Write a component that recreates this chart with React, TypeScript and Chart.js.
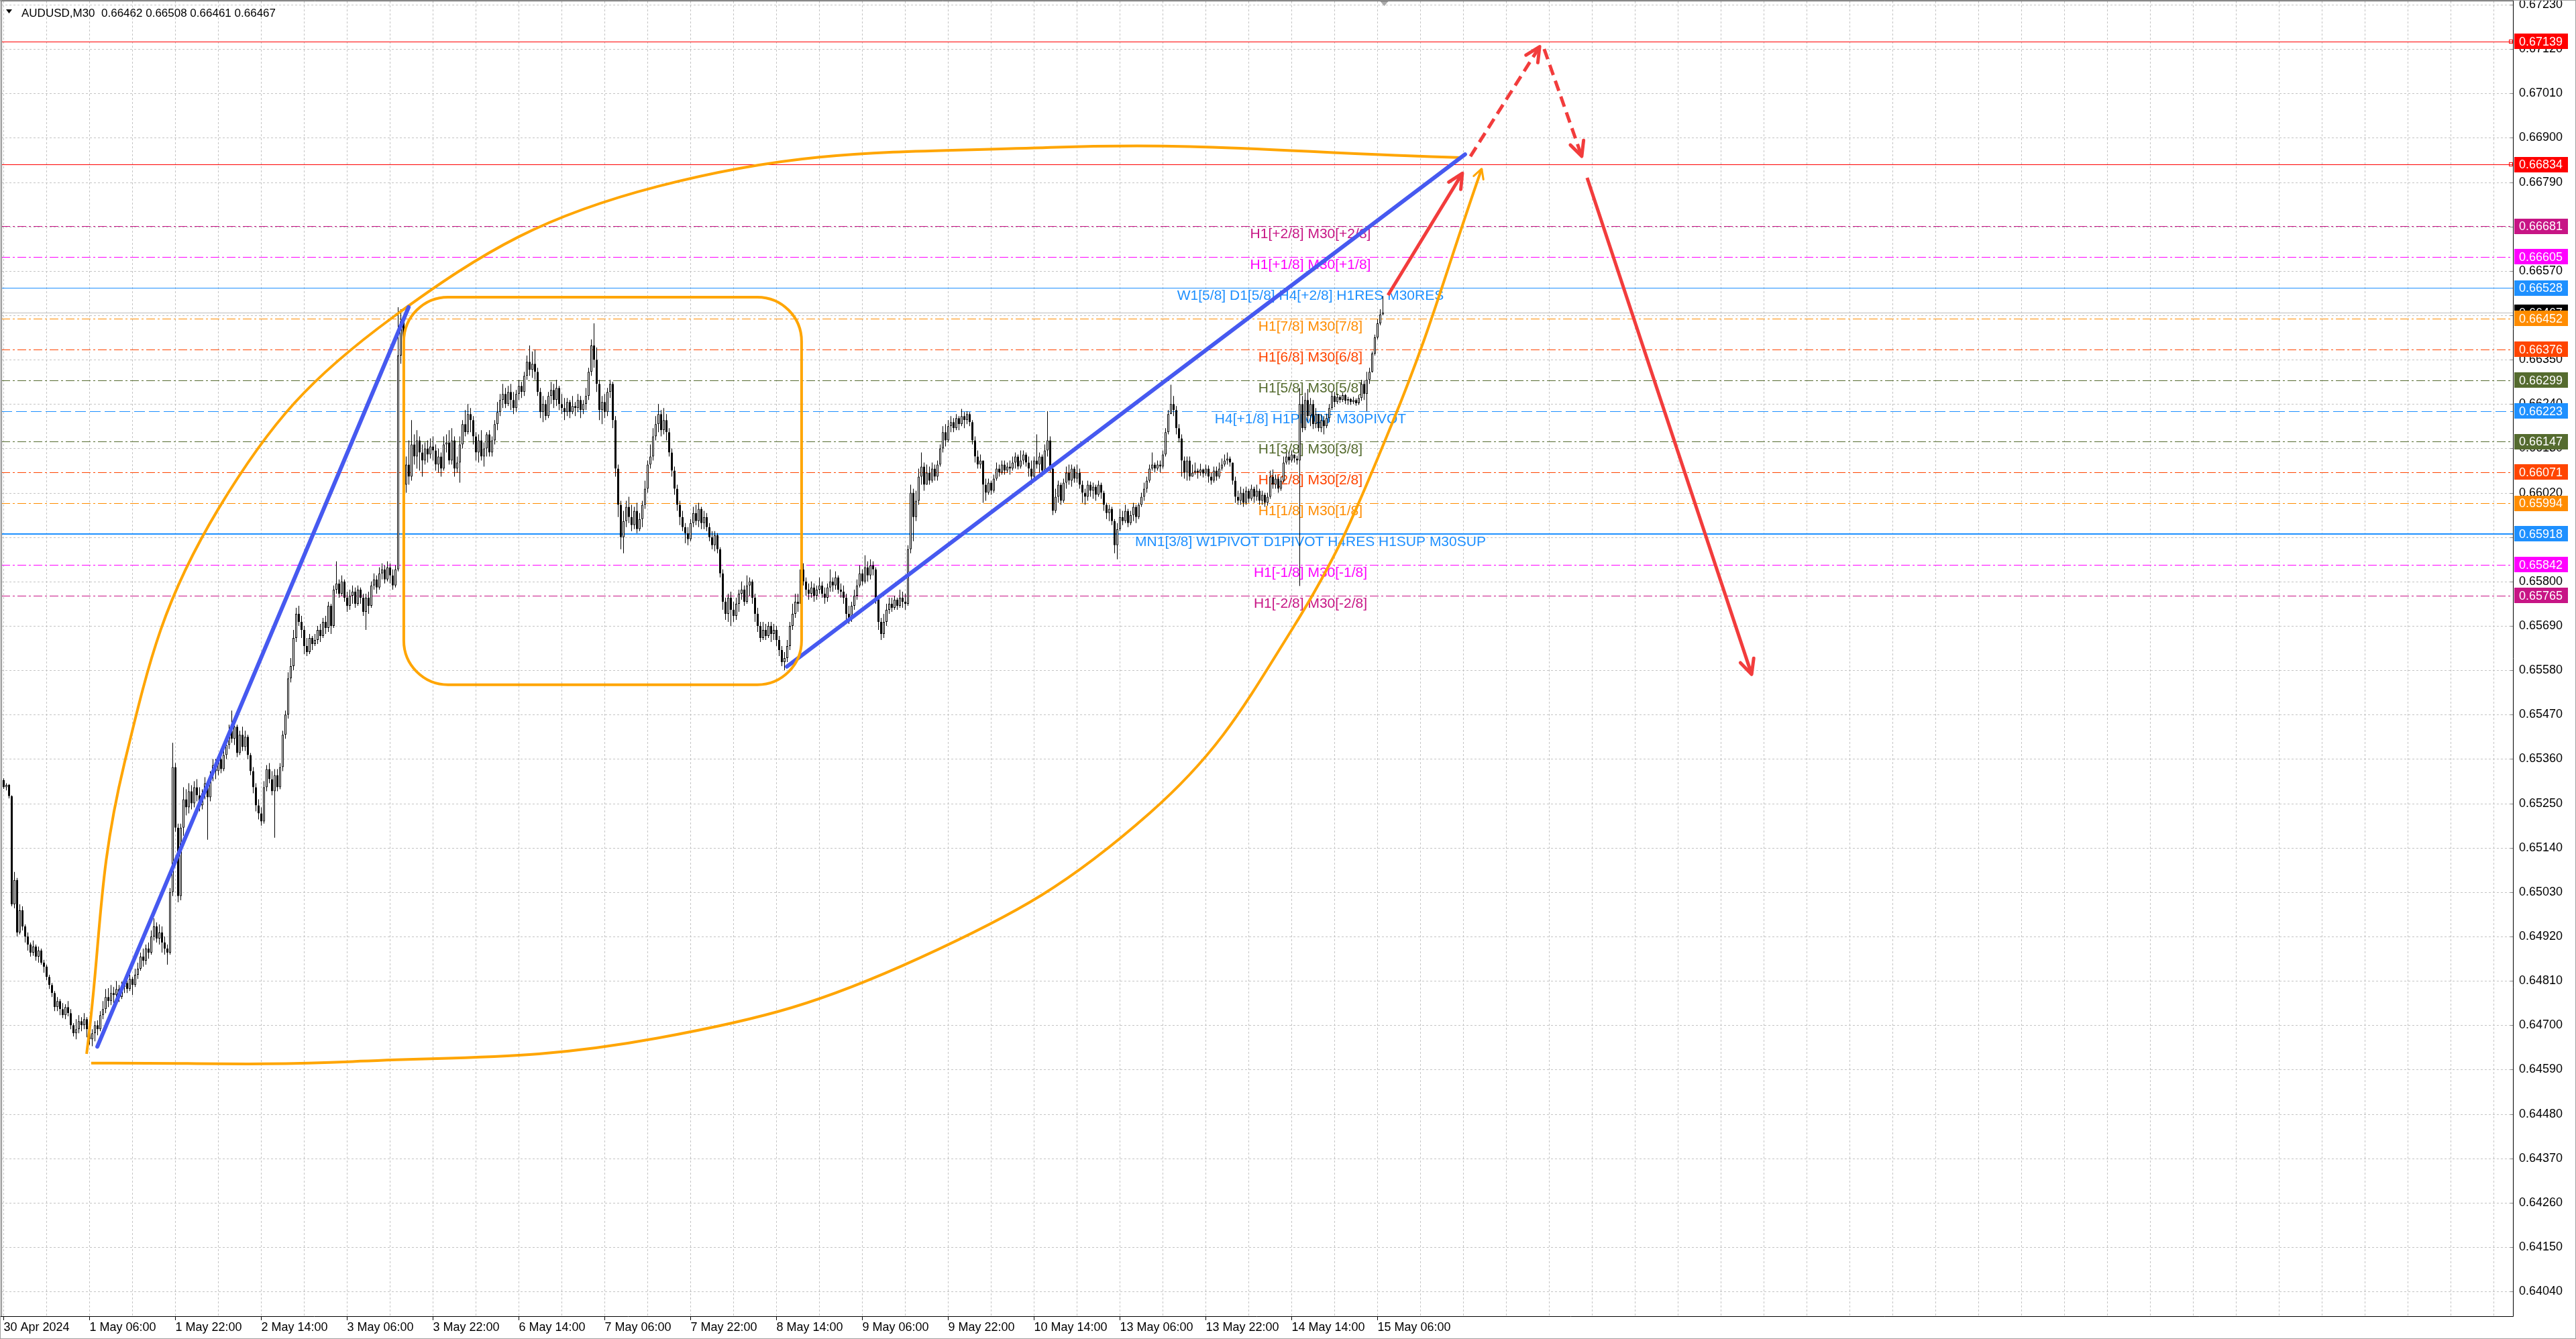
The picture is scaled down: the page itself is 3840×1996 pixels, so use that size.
import React, { useEffect, useRef } from 'react';
import { Chart, registerables } from 'chart.js';

Chart.register(...registerables);

// ---------------- DATA ----------------
const headerTitle = 'AUDUSD,M30  0.66462 0.66508 0.66461 0.66467';
const PRICE_BASE = 0.6;
const PRICE_UNIT = 100000;
const firstOpen = 5308;

const closes = [
  5290,5296,5268,5000,5060,4930,4985,4945,4920,4900,
  4880,4895,4870,4885,4855,4845,4820,4800,4780,4745,
  4760,4740,4725,4745,4730,4700,4680,4690,4710,4700,
  4715,4690,4665,4680,4700,4690,4725,4740,4770,4760,
  4780,4775,4790,4770,4795,4805,4790,4815,4800,4825,
  4840,4870,4860,4890,4880,4920,4945,4915,4930,4905,
  4890,4880,5030,5340,5190,5020,5190,5260,5240,5280,
  5250,5290,5270,5245,5275,5300,5265,5320,5345,5330,
  5360,5335,5370,5395,5430,5410,5440,5375,5420,5390,
  5415,5370,5330,5290,5245,5225,5205,5290,5335,5310,
  5280,5320,5290,5340,5420,5470,5560,5590,5660,5720,
  5700,5680,5640,5625,5660,5645,5655,5680,5665,5700,
  5685,5740,5690,5780,5795,5770,5800,5760,5740,5765,
  5775,5745,5780,5760,5725,5760,5740,5790,5805,5785,
  5820,5830,5805,5835,5815,5790,5830,6360,6445,6040,
  6090,6060,6140,6110,6150,6120,6100,6130,6115,6135,
  6125,6090,6110,6080,6140,6145,6100,6150,6080,6095,
  6140,6190,6170,6215,6200,6160,6120,6150,6110,6130,
  6165,6120,6150,6190,6220,6250,6265,6240,6270,6250,
  6230,6265,6285,6270,6310,6345,6325,6340,6320,6270,
  6220,6240,6210,6260,6275,6250,6280,6240,6230,6220,
  6245,6220,6235,6230,6250,6225,6240,6260,6320,6385,
  6350,6290,6225,6245,6220,6270,6290,6200,6080,5990,
  5910,5950,5985,5960,5940,5975,5930,5955,5990,6030,
  6090,6110,6160,6190,6215,6175,6200,6170,6120,6075,
  6030,5990,5960,5935,5920,5905,5945,5970,5950,5980,
  5945,5960,5935,5910,5890,5915,5880,5820,5750,5720,
  5760,5730,5715,5745,5770,5780,5750,5790,5800,5760,
  5720,5690,5660,5680,5665,5690,5670,5680,5655,5630,
  5600,5610,5640,5690,5720,5750,5745,5830,5800,5780,
  5770,5785,5765,5780,5790,5770,5760,5785,5800,5790,
  5810,5780,5775,5760,5720,5710,5740,5765,5790,5820,
  5800,5835,5815,5840,5830,5760,5700,5670,5700,5730,
  5745,5735,5755,5740,5760,5750,5745,5880,6020,5960,
  6000,6060,6085,6040,6070,6050,6080,6060,6090,6130,
  6170,6150,6185,6195,6180,6205,6190,6210,6200,6215,
  6195,6150,6110,6090,6100,6040,6020,6045,6025,6055,
  6080,6070,6090,6075,6085,6080,6095,6110,6085,6100,
  6115,6095,6080,6060,6100,6090,6110,6075,6125,6150,
  6080,5975,6010,6040,6000,6045,6070,6050,6080,6055,
  6070,6040,6020,6010,6040,6025,6035,6015,6040,6020,
  5990,5970,5980,5950,5890,5930,5960,5950,5975,5945,
  5965,5985,5960,5990,6010,6030,6050,6080,6090,6080,
  6090,6085,6115,6170,6215,6240,6225,6180,6155,6100,
  6070,6100,6060,6070,6075,6070,6078,6068,6080,6060,
  6050,6075,6060,6080,6090,6100,6105,6095,6050,6010,
  6000,6020,5995,6025,6005,6030,6010,6025,6000,6015,
  5995,6010,6060,6040,6055,6030,6050,6095,6110,6100,
  6115,6105,6100,6240,6180,6250,6210,6240,6190,6215,
  6180,6200,6185,6205,6230,6260,6245,6258,6250,6262,
  6248,6252,6245,6250,6242,6255,6290,6265,6300,6320,
  6365,6405,6440,6462,6467,
];

const highs = [
  5312,5300,5298,5270,5080,5065,5000,4995,4950,4930,
  4905,4910,4900,4895,4890,4862,4850,4825,4805,4785,
  4770,4765,4755,4752,4760,4740,4705,4715,4725,4720,
  4730,4720,4700,4690,4710,4712,4735,4760,4790,4792,
  4800,4795,4810,4800,4808,4815,4830,4825,4820,4840,
  4855,4880,4890,4900,4905,4935,4965,4955,4950,4945,
  4920,4900,5040,5400,5350,5200,5200,5290,5285,5300,
  5295,5305,5310,5290,5285,5315,5305,5330,5360,5360,
  5370,5375,5385,5410,5445,5480,5455,5445,5430,5440,
  5430,5420,5375,5340,5300,5260,5240,5305,5345,5350,
  5330,5335,5335,5350,5430,5480,5575,5610,5680,5735,
  5740,5715,5690,5660,5670,5665,5670,5690,5695,5710,
  5715,5750,5745,5790,5850,5805,5815,5805,5775,5780,
  5790,5785,5790,5785,5770,5770,5775,5800,5820,5815,
  5835,5845,5840,5850,5845,5830,5840,6480,6475,6460,
  6110,6150,6200,6165,6175,6160,6140,6145,6150,6155,
  6160,6140,6130,6120,6160,6165,6175,6180,6160,6110,
  6160,6200,6225,6240,6230,6210,6170,6165,6175,6145,
  6170,6175,6160,6200,6245,6265,6290,6280,6285,6290,
  6270,6275,6300,6295,6320,6360,6385,6370,6375,6330,
  6280,6260,6250,6270,6295,6290,6300,6285,6265,6255,
  6255,6250,6260,6245,6265,6260,6250,6280,6330,6400,
  6440,6380,6300,6260,6265,6280,6300,6295,6210,6090,
  6000,5975,6000,6010,5990,5985,5995,5970,6000,6050,
  6100,6140,6180,6210,6240,6225,6230,6215,6180,6130,
  6085,6040,6000,5975,5945,5935,5955,5985,5990,5995,
  5985,5975,5970,5945,5925,5925,5920,5885,5830,5760,
  5770,5775,5750,5760,5780,5800,5790,5815,5810,5805,
  5770,5735,5700,5700,5695,5700,5700,5695,5690,5665,
  5640,5625,5655,5700,5745,5770,5770,5840,5845,5810,
  5795,5800,5795,5790,5810,5800,5785,5795,5830,5810,
  5825,5815,5795,5790,5770,5740,5750,5780,5805,5840,
  5830,5865,5850,5855,5850,5835,5765,5710,5720,5745,
  5760,5760,5765,5760,5780,5775,5770,5890,6040,6030,
  6025,6080,6120,6095,6090,6085,6095,6090,6100,6140,
  6185,6190,6200,6210,6205,6215,6210,6228,6220,6222,
  6220,6200,6160,6125,6115,6100,6055,6055,6050,6065,
  6095,6090,6100,6100,6095,6100,6110,6120,6115,6125,
  6125,6120,6110,6100,6110,6165,6120,6115,6140,6222,
  6160,6090,6030,6050,6045,6055,6085,6090,6090,6085,
  6090,6080,6050,6030,6050,6048,6045,6040,6050,6045,
  6025,5995,5990,5985,5955,5945,5980,5975,5990,5980,
  5975,5995,5990,5995,6020,6045,6060,6090,6120,6095,
  6100,6100,6125,6180,6225,6288,6260,6235,6190,6165,
  6110,6110,6110,6090,6095,6080,6092,6080,6090,6088,
  6070,6085,6085,6095,6105,6115,6120,6110,6095,6060,
  6025,6035,6030,6035,6030,6040,6035,6040,6030,6025,
  6020,6020,6075,6078,6065,6060,6060,6110,6120,6122,
  6125,6115,6112,6280,6260,6268,6277,6255,6250,6230,
  6215,6215,6210,6216,6240,6271,6270,6266,6262,6268,
  6265,6258,6255,6258,6254,6262,6300,6299,6320,6330,
  6370,6412,6450,6475,6508,
];

const lows = [
  5286,5282,5262,4995,4990,4920,4925,4935,4905,4885,
  4870,4872,4860,4855,4850,4830,4812,4790,4770,4735,
  4735,4725,4718,4715,4722,4690,4672,4665,4680,4685,
  4690,4670,4652,4648,4660,4675,4685,4715,4730,4745,
  4750,4755,4765,4758,4765,4780,4780,4785,4775,4795,
  4815,4835,4845,4850,4865,4875,4910,4905,4900,4880,
  4875,4850,4875,5020,5180,5005,5010,5170,5220,5225,
  5235,5240,5255,5230,5235,5260,5160,5255,5305,5310,
  5320,5325,5330,5360,5385,5400,5395,5365,5370,5380,
  5380,5360,5320,5275,5230,5210,5195,5200,5280,5300,
  5270,5165,5280,5285,5330,5410,5460,5550,5580,5650,
  5690,5660,5620,5615,5620,5630,5640,5645,5650,5660,
  5670,5675,5670,5685,5770,5760,5765,5750,5725,5730,
  5745,5735,5740,5745,5715,5680,5720,5735,5780,5770,
  5780,5805,5795,5800,5795,5780,5785,5825,6340,6000,
  6020,6040,6050,6090,6080,6075,6060,6090,6095,6105,
  6100,6075,6070,6060,6075,6120,6090,6090,6060,6070,
  6045,6130,6160,6165,6170,6140,6100,6095,6100,6085,
  6110,6110,6110,6140,6175,6210,6230,6230,6235,6225,
  6215,6220,6250,6255,6260,6300,6310,6305,6300,6260,
  6205,6195,6200,6205,6240,6230,6235,6225,6215,6200,
  6210,6205,6215,6210,6220,6205,6215,6225,6250,6310,
  6330,6270,6200,6190,6205,6210,6255,6180,6060,5960,
  5880,5870,5935,5945,5925,5930,5920,5925,5935,5980,
  6020,6080,6100,6150,6170,6160,6165,6150,6110,6060,
  6015,5975,5940,5925,5895,5890,5900,5935,5940,5935,
  5930,5930,5925,5900,5880,5875,5870,5810,5730,5705,
  5700,5690,5700,5705,5725,5755,5740,5745,5765,5745,
  5700,5675,5650,5655,5655,5660,5650,5655,5640,5615,
  5590,5580,5600,5630,5680,5710,5725,5740,5790,5765,
  5755,5760,5750,5755,5770,5760,5745,5750,5775,5775,
  5780,5770,5760,5745,5705,5695,5700,5730,5755,5785,
  5790,5795,5800,5805,5815,5745,5680,5655,5660,5690,
  5720,5725,5730,5730,5735,5735,5730,5740,5870,5900,
  5950,5990,6040,6025,6040,6040,6045,6050,6050,6085,
  6120,6135,6145,6170,6170,6175,6175,6185,6180,6190,
  6185,6140,6095,6080,6080,5995,6000,6015,6015,6020,
  6050,6060,6065,6065,6070,6065,6075,6080,6078,6080,
  6090,6085,6060,6040,6050,6080,6070,6060,6070,6110,
  6070,5965,5970,5995,5990,5995,6030,6040,6035,6045,
  6045,6030,5995,5990,6000,6010,6005,6000,6010,6005,
  5975,5955,5950,5940,5870,5855,5925,5940,5945,5935,
  5940,5950,5945,5955,5985,6000,6020,6045,6075,6070,
  6075,6070,6080,6110,6165,6215,6210,6165,6145,6060,
  6055,6050,6050,6060,6065,6055,6062,6058,6062,6045,
  6040,6045,6050,6055,6075,6085,6090,6085,6040,5995,
  5990,5990,5985,5990,5995,6000,5995,6000,5990,5990,
  5985,5988,6005,6030,6030,6020,6025,6045,6090,6090,
  6095,6095,6090,5789,6170,6175,6195,6185,6178,6180,
  6172,6170,6165,6180,6195,6225,6232,6240,6243,6245,
  6240,6238,6238,6240,6236,6238,6248,6250,6222,6290,
  6318,6360,6400,6435,6461,
];

const xTickIndex = [0, 32, 64, 96, 128, 160, 192, 224, 256, 288, 320, 352, 384, 416, 448, 480, 512];
const xTickLabels = [
  '30 Apr 2024', '1 May 06:00', '1 May 22:00', '2 May 14:00', '3 May 06:00', '3 May 22:00',
  '6 May 14:00', '7 May 06:00', '7 May 22:00', '8 May 14:00', '9 May 06:00', '9 May 22:00',
  '10 May 14:00', '13 May 06:00', '13 May 22:00', '14 May 14:00', '15 May 06:00',
];

const yTickValues = [
  0.64040, 0.64150, 0.64260, 0.64370, 0.64480, 0.64590, 0.64700, 0.64810, 0.64920, 0.65030,
  0.65140, 0.65250, 0.65360, 0.65470, 0.65580, 0.65690, 0.65800, 0.65910, 0.66020, 0.66130,
  0.66240, 0.66350, 0.66460, 0.66570, 0.66680, 0.66790, 0.66900, 0.67010, 0.67120, 0.67230,
];

const levelPrices = [
  0.67139, 0.66834, 0.66681, 0.66605, 0.66528, 0.66452, 0.66376, 0.66299,
  0.66223, 0.66147, 0.66071, 0.65994, 0.65918, 0.65842, 0.65765,
];
const levelTexts = [
  '', '', 'H1[+2/8] M30[+2/8]', 'H1[+1/8] M30[+1/8]', 'W1[5/8] D1[5/8] H4[+2/8] H1RES M30RES',
  'H1[7/8] M30[7/8]', 'H1[6/8] M30[6/8]', 'H1[5/8] M30[5/8]', 'H4[+1/8] H1PIVOT M30PIVOT',
  'H1[3/8] M30[3/8]', 'H1[2/8] M30[2/8]', 'H1[1/8] M30[1/8]',
  'MN1[3/8] W1PIVOT D1PIVOT H4RES H1SUP M30SUP', 'H1[-1/8] M30[-1/8]', 'H1[-2/8] M30[-2/8]',
];
const currentPrice = 0.66467;

// drawn objects (bar index, price)
const blueTrendA = [{ x: 34.9, y: 0.64647 }, { x: 150.9, y: 0.6648 }];
const blueTrendB = [{ x: 291.9, y: 0.65589 }, { x: 544.6, y: 0.66859 }];
const orangeArcUpper = [
  { x: 30.9, y: 0.64629 }, { x: 45.0, y: 0.65350 }, { x: 80.0, y: 0.65980 }, { x: 145.0, y: 0.66455 },
  { x: 244.0, y: 0.66780 }, { x: 390.0, y: 0.66876 }, { x: 543.6, y: 0.66851 },
];
const orangeArcLower = [
  { x: 32.6, y: 0.64606 }, { x: 130, y: 0.64610 }, { x: 243.6, y: 0.64668 }, { x: 341.4, y: 0.64867 },
  { x: 427.1, y: 0.65226 }, { x: 480, y: 0.65680 }, { x: 517.3, y: 0.66190 }, { x: 550.8, y: 0.66823 },
];
const orangeBox = { x1: 149.1, x2: 297.35, top: 0.66505, bottom: 0.65544 };
const redArrows = [
  [{ x: 515.9, y: 0.6651 }, { x: 543.6, y: 0.66812 }],
  [{ x: 546.6, y: 0.66854 }, { x: 572.4, y: 0.67126 }],
  [{ x: 574.1, y: 0.6712 }, { x: 588.1, y: 0.66854 }],
  [{ x: 590.1, y: 0.66801 }, { x: 651.4, y: 0.6557 }],
];

// ---------------- STYLE ----------------
const FONT = "'Liberation Sans', Arial, sans-serif";
const X_MIN = -0.875;
const X_MAX = 935.125;
const Y_MAX = 0.672383;
const Y_MIN = 0.639787;
const GRID_STEP_BARS = 16;
const GRID_COLOR = '#C4C4C4';
const DD = [13, 4, 3, 4];
const LEVEL_COLORS = ['#FF0000', '#FF0000', '#C71585', '#FF00FF', '#1E90FF', '#FF8C00', '#FF4500', '#556B2F',
  '#1E90FF', '#556B2F', '#FF4500', '#FF8C00', '#1E90FF', '#FF00FF', '#C71585'];
const LEVEL_DASH = [[], [], DD, DD, [], DD, DD, DD, [16, 6], DD, DD, DD, [], DD, DD];
const LEVEL_WIDTH = [1, 1, 1, 1, 1, 1, 1, 1, 1, 1, 1, 1, 2, 1, 1];
const LEVEL_TEXT_INDEX = 487;
const RED_DASHED = [false, true, true, false];
const BLUE = '#4659F0';
const ORANGE = '#FFA500';
const RED = '#F23C3C';

const P = (n: number) => PRICE_BASE + n / PRICE_UNIT;

function roundRectPath(ctx: CanvasRenderingContext2D, x: number, y: number, w: number, h: number, r: number) {
  ctx.beginPath();
  ctx.moveTo(x + r, y);
  ctx.arcTo(x + w, y, x + w, y + h, r);
  ctx.arcTo(x + w, y + h, x, y + h, r);
  ctx.arcTo(x, y + h, x, y, r);
  ctx.arcTo(x, y, x + w, y, r);
  ctx.closePath();
}

function arrowHead(ctx: CanvasRenderingContext2D, x0: number, y0: number, x1: number, y1: number, len: number, ang: number) {
  const a = Math.atan2(y1 - y0, x1 - x0);
  ctx.beginPath();
  ctx.moveTo(x1 - len * Math.cos(a - ang), y1 - len * Math.sin(a - ang));
  ctx.lineTo(x1, y1);
  ctx.lineTo(x1 - len * Math.cos(a + ang), y1 - len * Math.sin(a + ang));
  ctx.stroke();
}

const overlayPlugin = {
  id: 'mt4Overlay',
  beforeDatasetsDraw(chart: any) {
    const { ctx, chartArea: a } = chart;
    const xs = chart.scales.x;
    const ys = chart.scales.y;
    ctx.save();
    ctx.beginPath();
    ctx.rect(a.left, a.top, a.right - a.left, a.bottom - a.top);
    ctx.clip();
    // grid
    ctx.strokeStyle = GRID_COLOR;
    ctx.lineWidth = 1;
    ctx.setLineDash([3, 3]);
    for (const v of yTickValues) {
      const y = Math.round(ys.getPixelForValue(v)) + 0.5;
      ctx.beginPath(); ctx.moveTo(a.left, y); ctx.lineTo(a.right, y); ctx.stroke();
    }
    for (let v = 0; v <= xs.max; v += GRID_STEP_BARS) {
      const x = Math.floor(xs.getPixelForValue(v)) + 0.5;
      ctx.beginPath(); ctx.moveTo(x, a.top); ctx.lineTo(x, a.bottom); ctx.stroke();
    }
    // current price line
    ctx.setLineDash([]);
    ctx.strokeStyle = '#BDBDBD';
    {
      const y = Math.round(ys.getPixelForValue(currentPrice)) + 0.5;
      ctx.beginPath(); ctx.moveTo(a.left, y); ctx.lineTo(a.right, y); ctx.stroke();
    }
    // level lines
    levelPrices.forEach((p, i) => {
      const w = LEVEL_WIDTH[i];
      let y = ys.getPixelForValue(p);
      y = w % 2 ? Math.round(y) + 0.5 : Math.round(y);
      ctx.setLineDash(LEVEL_DASH[i]);
      ctx.lineWidth = w;
      ctx.strokeStyle = LEVEL_COLORS[i];
      ctx.beginPath(); ctx.moveTo(a.left, y); ctx.lineTo(a.right, y); ctx.stroke();
    });
    // level texts
    ctx.setLineDash([]);
    ctx.font = `21px ${FONT}`;
    ctx.textAlign = 'center';
    ctx.textBaseline = 'alphabetic';
    const tx = xs.getPixelForValue(LEVEL_TEXT_INDEX);
    levelTexts.forEach((t, i) => {
      if (!t) return;
      ctx.fillStyle = LEVEL_COLORS[i];
      ctx.fillText(t, tx, Math.round(ys.getPixelForValue(levelPrices[i])) + 18);
    });
    ctx.restore();
  },
  afterDatasetsDraw(chart: any) {
    const { ctx, chartArea: a } = chart;
    const xs = chart.scales.x;
    const ys = chart.scales.y;
    ctx.save();
    ctx.beginPath();
    ctx.rect(a.left, a.top, a.right - a.left, a.bottom - a.top);
    ctx.clip();
    // rounded rectangle
    const bx1 = xs.getPixelForValue(orangeBox.x1);
    const bx2 = xs.getPixelForValue(orangeBox.x2);
    const by1 = ys.getPixelForValue(orangeBox.top);
    const by2 = ys.getPixelForValue(orangeBox.bottom);
    ctx.strokeStyle = ORANGE;
    ctx.lineWidth = 4;
    roundRectPath(ctx, bx1, by1, bx2 - bx1, by2 - by1, 66);
    ctx.stroke();
    // arrowheads
    ctx.lineCap = 'round';
    ctx.lineJoin = 'round';
    ctx.strokeStyle = RED;
    ctx.lineWidth = 5;
    redArrows.forEach((seg) => {
      const p0 = seg[0];
      const p1 = seg[seg.length - 1];
      arrowHead(ctx, xs.getPixelForValue(p0.x), ys.getPixelForValue(p0.y),
        xs.getPixelForValue(p1.x), ys.getPixelForValue(p1.y), 24, 0.45);
    });
    const l0 = orangeArcLower[orangeArcLower.length - 2];
    const l1 = orangeArcLower[orangeArcLower.length - 1];
    ctx.strokeStyle = ORANGE;
    ctx.lineWidth = 3;
    arrowHead(ctx, xs.getPixelForValue(l0.x), ys.getPixelForValue(l0.y),
      xs.getPixelForValue(l1.x), ys.getPixelForValue(l1.y), 16, 0.5);
    ctx.restore();
  },
  afterDraw(chart: any) {
    const { ctx, chartArea: a } = chart;
    const xs = chart.scales.x;
    const ys = chart.scales.y;
    const W = chart.width;
    const H = chart.height;
    ctx.save();
    // axes lines
    ctx.strokeStyle = '#000';
    ctx.lineWidth = 1;
    ctx.setLineDash([]);
    ctx.beginPath();
    ctx.moveTo(Math.round(a.right) + 0.5, 0);
    ctx.lineTo(Math.round(a.right) + 0.5, Math.round(a.bottom) + 0.5);
    ctx.lineTo(0, Math.round(a.bottom) + 0.5);
    ctx.stroke();
    // x tick marks
    xTickIndex.forEach((v) => {
      const x = Math.floor(xs.getPixelForValue(v)) + 0.5;
      ctx.beginPath(); ctx.moveTo(x, a.bottom + 1); ctx.lineTo(x, a.bottom + 6); ctx.stroke();
    });
    // y tick marks
    ctx.strokeStyle = '#888';
    yTickValues.forEach((v) => {
      const y = Math.round(ys.getPixelForValue(v)) + 0.5;
      ctx.beginPath(); ctx.moveTo(a.right - 4, y); ctx.lineTo(a.right, y); ctx.stroke();
    });
    // price tags
    const tags = levelPrices.map((p, i) => ({ p, c: LEVEL_COLORS[i], red: i < 2 }));
    tags.push({ p: currentPrice, c: '#000000', red: false });
    tags.sort((m, n) => n.p - m.p);
    ctx.font = `18px ${FONT}`;
    ctx.textAlign = 'left';
    ctx.textBaseline = 'middle';
    tags.forEach((t) => {
      const y = ys.getPixelForValue(t.p);
      ctx.fillStyle = t.c;
      ctx.fillRect(a.right + 2, Math.round(y - 11.5), 80, 23);
      ctx.fillStyle = '#FFFFFF';
      ctx.fillText(t.p.toFixed(5), a.right + 9, Math.round(y) + 1);
      if (t.red) {
        ctx.strokeStyle = '#FF0000';
        ctx.lineWidth = 1;
        ctx.strokeRect(a.right - 5.5, Math.round(y) - 2.5, 5, 5);
      }
    });
    // chart shift marker
    const sx = xs.getPixelForValue(closes.length - 1) + 2;
    ctx.fillStyle = '#A8A8A8';
    ctx.beginPath();
    ctx.moveTo(sx - 6, a.top);
    ctx.lineTo(sx + 6, a.top);
    ctx.lineTo(sx, a.top + 7);
    ctx.closePath();
    ctx.fill();
    // header
    ctx.fillStyle = '#000';
    ctx.beginPath();
    ctx.moveTo(9, 14); ctx.lineTo(18, 14); ctx.lineTo(13.5, 20); ctx.closePath();
    ctx.fill();
    ctx.font = `17px ${FONT}`;
    ctx.textBaseline = 'alphabetic';
    ctx.fillText(headerTitle, 32, 25);
    // frame
    ctx.strokeStyle = '#A0A0A0';
    ctx.strokeRect(0.5, 0.5, W - 1, H - 1);
    ctx.strokeStyle = '#606060';
    ctx.beginPath();
    ctx.moveTo(2.5, 1.5); ctx.lineTo(2.5, a.bottom);
    ctx.moveTo(1.5, 1.5); ctx.lineTo(a.right, 1.5);
    ctx.stroke();
    ctx.restore();
  },
};

export default function App() {
  const ref = useRef<HTMLCanvasElement | null>(null);
  useEffect(() => {
    const canvas = ref.current;
    if (!canvas) return;
    const n = Math.min(closes.length, highs.length, lows.length);
    const opens: number[] = [];
    for (let i = 0; i < n; i++) opens.push(i === 0 ? firstOpen : closes[i - 1]);
    const wickData: any[] = [];
    const bodyData: any[] = [];
    const bodyColors: string[] = [];
    for (let i = 0; i < n; i++) {
      const lo = Math.min(lows[i], opens[i], closes[i]);
      const hi = Math.max(highs[i], opens[i], closes[i]);
      wickData.push({ x: i, y: [P(lo), P(hi)] });
      bodyData.push({ x: i, y: [P(opens[i]), P(closes[i])] });
      bodyColors.push(closes[i] >= opens[i] ? '#FFFFFF' : '#000000');
    }
    const lineDs = (data: any[], color: string, width: number, order: number, extra: any = {}) => ({
      type: 'line', data, borderColor: color, borderWidth: width, pointRadius: 0,
      fill: false, order, ...extra,
    });
    const datasets: any[] = [
      { type: 'bar', data: wickData, backgroundColor: '#000000', borderWidth: 0, barThickness: 1,
        grouped: false, order: 20, minBarLength: 1, inflateAmount: 0 },
      { type: 'bar', data: bodyData, backgroundColor: bodyColors, borderColor: '#000000', borderWidth: 1,
        borderSkipped: false, barThickness: 3, grouped: false, order: 19, minBarLength: 1, inflateAmount: 0 },
      lineDs(orangeArcUpper, ORANGE, 4, 6, { tension: 0.4, cubicInterpolationMode: 'default' }),
      lineDs(orangeArcLower, ORANGE, 4, 6, { tension: 0.4, cubicInterpolationMode: 'default' }),
      lineDs(blueTrendA, BLUE, 6, 5, { borderCapStyle: 'round' }),
      lineDs(blueTrendB, BLUE, 6, 5, { borderCapStyle: 'round' }),
      ...redArrows.map((seg, i) => lineDs(seg, RED, 5, 4, RED_DASHED[i] ? { borderDash: [16, 9] } : {})),
    ];
    const chart = new Chart(canvas, {
      type: 'line',
      data: { datasets },
      options: {
        responsive: false,
        animation: false,
        devicePixelRatio: 1,
        events: [],
        layout: { padding: { left: 2, top: 2, right: 0, bottom: 0 } },
        plugins: { legend: { display: false }, tooltip: { enabled: false }, title: { display: false } },
        scales: {
          x: {
            type: 'linear', position: 'bottom', min: X_MIN, max: X_MAX, offset: false,
            grid: { display: false, drawTicks: false }, border: { display: false },
            ticks: {
              autoSkip: false, maxRotation: 0, minRotation: 0, align: 'start', padding: 6,
              color: '#000', font: { family: FONT, size: 18 },
              callback: (_v: any, i: number) => xTickLabels[i] ?? '',
            },
            afterBuildTicks: (s: any) => { s.ticks = xTickIndex.map((v) => ({ value: v })); },
            afterFit: (s: any) => { s.height = 34; s.paddingLeft = 0; s.paddingRight = 0; },
          },
          y: {
            type: 'linear', position: 'right', min: Y_MIN, max: Y_MAX,
            grid: { display: false, drawTicks: false }, border: { display: false },
            ticks: {
              autoSkip: false, padding: 9, color: '#000', font: { family: FONT, size: 18 },
              callback: (v: any) => Number(v).toFixed(5),
            },
            afterBuildTicks: (s: any) => { s.ticks = yTickValues.map((v) => ({ value: v })); },
            afterFit: (s: any) => { s.width = 94; s.paddingTop = 0; s.paddingBottom = 0; },
          },
        },
      } as any,
      plugins: [overlayPlugin],
    } as any);
    return () => chart.destroy();
  }, []);
  return (
    <div style={{ position: 'absolute', left: 0, top: 0, width: 3840, height: 1996, background: '#FFFFFF' }}>
      <canvas ref={ref} width={3840} height={1996} style={{ display: 'block', width: 3840, height: 1996 }} />
    </div>
  );
}
